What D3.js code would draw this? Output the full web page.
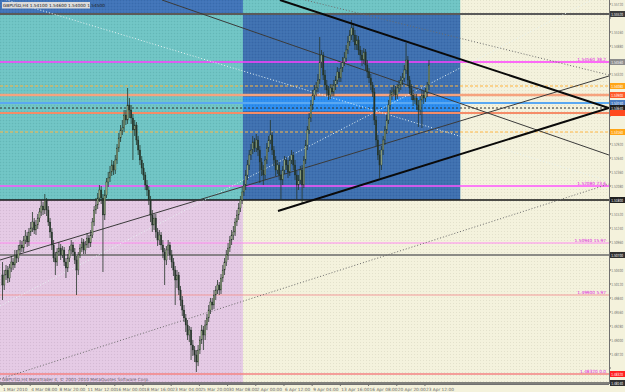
<!DOCTYPE html>
<html>
<head>
<meta charset="utf-8">
<title>GBPUSD H4</title>
<script src="https://d3js.org/d3.v7.min.js"></script>
<style>
  body { margin: 0; background: #fff; }
  svg { display: block; font-family: "DejaVu Sans", sans-serif; }
</style>
</head>
<body>
<div id="chart"></div>
<script>
// ---- data ----
var symbol = "GBPUSD,H4";
var copyright = "MetaTrader 4, \u00a9 2001-2010 MetaQuotes Software Corp.";

var timeLabels = ["1 Mar 2010", "4 Mar 08:00", "8 Mar 20:00", "11 Mar 12:00", "16 Mar 00:00",
  "18 Mar 16:00", "23 Mar 04:00", "25 Mar 20:00", "30 Mar 08:00", "2 Apr 00:00", "6 Apr 12:00",
  "9 Apr 04:00", "13 Apr 16:00", "16 Apr 08:00", "20 Apr 20:00", "23 Apr 12:00"];
var timeLabelBars = [0, 16, 32, 48, 64, 80, 96, 112, 128, 144, 160, 176, 192, 208, 224, 240];

var priceTicks = [1.5572, 1.5544, 1.5516, 1.5488, 1.5460, 1.5432, 1.5404, 1.5376, 1.5348,
  1.5320, 1.5292, 1.5264, 1.5236, 1.5208, 1.5180, 1.5152, 1.5124, 1.5096, 1.5068, 1.5040,
  1.5012, 1.4984, 1.4956, 1.4928, 1.4900, 1.4872, 1.4844];

var open = [1.5030,
  1.5010,1.5030,1.5040,1.5024,1.5044,1.5056,1.5050,1.5070,1.5064,1.5080,
  1.5090,1.5084,1.5100,1.5108,1.5096,1.5116,1.5124,1.5136,1.5120,1.5130,
  1.5144,1.5156,1.5168,1.5160,1.5180,1.5160,1.5136,1.5116,1.5090,1.5064,
  1.5056,1.5076,1.5084,1.5070,1.5080,1.5056,1.5044,1.5064,1.5080,1.5090,
  1.5076,1.5060,1.5040,1.5070,1.5084,1.5096,1.5080,1.5090,1.5104,1.5094,
  1.5110,1.5136,1.5160,1.5170,1.5184,1.5200,1.5184,1.5150,1.5190,1.5216,
  1.5224,1.5236,1.5250,1.5240,1.5260,1.5284,1.5304,1.5320,1.5324,1.5350,
  1.5340,1.5370,1.5360,1.5344,1.5320,1.5330,1.5300,1.5280,1.5260,1.5244,
  1.5230,1.5210,1.5200,1.5180,1.5150,1.5130,1.5144,1.5116,1.5100,1.5110,
  1.5090,1.5076,1.5060,1.5080,1.5090,1.5070,1.5056,1.5040,1.5020,1.5030,
  1.5000,1.4980,1.4960,1.4944,1.4930,1.4910,1.4920,1.4890,1.4880,1.4870,
  1.4856,1.4880,1.4900,1.4920,1.4910,1.4930,1.4944,1.4960,1.4976,1.4970,
  1.4990,1.5000,1.5010,1.5000,1.5024,1.5040,1.5056,1.5070,1.5084,1.5100,
  1.5110,1.5116,1.5136,1.5150,1.5164,1.5180,1.5196,1.5210,1.5230,1.5250,
  1.5270,1.5280,1.5296,1.5284,1.5300,1.5280,1.5256,1.5240,1.5230,1.5260,
  1.5284,1.5300,1.5310,1.5280,1.5260,1.5240,1.5250,1.5230,1.5220,1.5240,
  1.5260,1.5250,1.5236,1.5260,1.5270,1.5250,1.5230,1.5210,1.5220,1.5240,
  1.5210,1.5260,1.5290,1.5320,1.5344,1.5370,1.5390,1.5400,1.5404,1.5420,
  1.5456,1.5470,1.5430,1.5410,1.5400,1.5390,1.5404,1.5396,1.5410,1.5420,
  1.5436,1.5424,1.5444,1.5456,1.5464,1.5480,1.5496,1.5510,1.5524,1.5510,
  1.5490,1.5500,1.5480,1.5470,1.5460,1.5476,1.5450,1.5436,1.5424,1.5410,
  1.5396,1.5340,1.5300,1.5270,1.5250,1.5280,1.5300,1.5320,1.5340,1.5370,
  1.5390,1.5396,1.5400,1.5390,1.5404,1.5410,1.5420,1.5424,1.5440,1.5460,
  1.5420,1.5404,1.5390,1.5380,1.5384,1.5370,1.5360,1.5380,1.5390,1.5384,
  1.5396,1.5410];

var high = [
  1.5056,1.5040,1.5050,1.5048,1.5052,1.5068,1.5064,1.5080,1.5080,1.5090,
  1.5100,1.5098,1.5108,1.5120,1.5116,1.5124,1.5136,1.5156,1.5144,1.5140,
  1.5152,1.5164,1.5180,1.5176,1.5192,1.5184,1.5168,1.5144,1.5124,1.5100,
  1.5076,1.5084,1.5096,1.5092,1.5088,1.5086,1.5064,1.5072,1.5088,1.5100,
  1.5096,1.5084,1.5068,1.5076,1.5092,1.5104,1.5102,1.5098,1.5114,1.5110,
  1.5120,1.5144,1.5168,1.5184,1.5194,1.5210,1.5208,1.5192,1.5200,1.5224,
  1.5236,1.5248,1.5260,1.5258,1.5270,1.5292,1.5314,1.5330,1.5340,1.5360,
  1.5360,1.5404,1.5384,1.5370,1.5352,1.5340,1.5336,1.5308,1.5290,1.5268,
  1.5254,1.5236,1.5220,1.5208,1.5188,1.5160,1.5152,1.5152,1.5124,1.5120,
  1.5116,1.5100,1.5084,1.5088,1.5100,1.5096,1.5080,1.5064,1.5048,1.5040,
  1.5036,1.5008,1.4988,1.4970,1.4952,1.4940,1.4928,1.4926,1.4900,1.4888,
  1.4880,1.4890,1.4908,1.4930,1.4928,1.4940,1.4952,1.4970,1.4984,1.4984,
  1.5000,1.5008,1.5020,1.5016,1.5032,1.5050,1.5064,1.5080,1.5094,1.5108,
  1.5120,1.5128,1.5144,1.5160,1.5174,1.5188,1.5206,1.5220,1.5240,1.5260,
  1.5280,1.5292,1.5308,1.5304,1.5312,1.5308,1.5288,1.5264,1.5250,1.5268,
  1.5294,1.5308,1.5340,1.5316,1.5288,1.5268,1.5260,1.5256,1.5240,1.5248,
  1.5268,1.5266,1.5260,1.5268,1.5280,1.5276,1.5260,1.5238,1.5230,1.5248,
  1.5250,1.5268,1.5300,1.5328,1.5354,1.5380,1.5400,1.5410,1.5416,1.5432,
  1.5506,1.5480,1.5476,1.5440,1.5420,1.5408,1.5412,1.5412,1.5420,1.5428,
  1.5446,1.5444,1.5454,1.5466,1.5476,1.5490,1.5508,1.5520,1.5540,1.5532,
  1.5520,1.5510,1.5508,1.5488,1.5480,1.5484,1.5482,1.5460,1.5444,1.5432,
  1.5416,1.5404,1.5348,1.5310,1.5280,1.5288,1.5308,1.5328,1.5350,1.5380,
  1.5400,1.5406,1.5410,1.5408,1.5412,1.5420,1.5428,1.5434,1.5450,1.5494,
  1.5468,1.5428,1.5412,1.5400,1.5392,1.5392,1.5380,1.5388,1.5400,1.5398,
  1.5404,1.5416,1.5460];

var low = [
  1.4980,1.5000,1.5020,1.5014,1.5016,1.5036,1.5040,1.5044,1.5054,1.5056,
  1.5072,1.5076,1.5076,1.5092,1.5086,1.5088,1.5108,1.5116,1.5112,1.5110,
  1.5122,1.5136,1.5148,1.5150,1.5152,1.5148,1.5128,1.5104,1.5080,1.5056,
  1.5030,1.5048,1.5068,1.5060,1.5064,1.5048,1.5024,1.5036,1.5056,1.5072,
  1.5068,1.5052,1.4990,1.5030,1.5064,1.5076,1.5072,1.5072,1.5084,1.5084,
  1.5086,1.5104,1.5128,1.5152,1.5162,1.5176,1.5172,1.5036,1.5140,1.5184,
  1.5206,1.5216,1.5228,1.5230,1.5232,1.5252,1.5276,1.5296,1.5310,1.5316,
  1.5330,1.5332,1.5344,1.5332,1.5260,1.5308,1.5290,1.5270,1.5250,1.5232,
  1.5220,1.5200,1.5188,1.5170,1.5136,1.5116,1.5120,1.5104,1.5088,1.5090,
  1.5080,1.5064,1.5010,1.5050,1.5072,1.5060,1.5044,1.5028,1.4970,1.5004,
  1.4990,1.4968,1.4948,1.4936,1.4916,1.4900,1.4896,1.4860,1.4868,1.4856,
  1.4836,1.4848,1.4872,1.4892,1.4880,1.4900,1.4920,1.4936,1.4952,1.4960,
  1.4962,1.4980,1.4992,1.4990,1.4992,1.5016,1.5030,1.5048,1.5060,1.5076,
  1.5090,1.5100,1.5108,1.5128,1.5140,1.5156,1.5172,1.5188,1.5200,1.5220,
  1.5240,1.5260,1.5272,1.5276,1.5276,1.5268,1.5214,1.5228,1.5210,1.5220,
  1.5252,1.5276,1.5292,1.5270,1.5248,1.5228,1.5232,1.5220,1.5180,1.5210,
  1.5232,1.5240,1.5224,1.5228,1.5252,1.5240,1.5220,1.5180,1.5200,1.5212,
  1.5174,1.5204,1.5252,1.5280,1.5312,1.5336,1.5360,1.5380,1.5388,1.5396,
  1.5412,1.5444,1.5420,1.5400,1.5388,1.5380,1.5382,1.5388,1.5388,1.5400,
  1.5412,1.5416,1.5416,1.5436,1.5448,1.5456,1.5472,1.5488,1.5500,1.5496,
  1.5480,1.5480,1.5470,1.5460,1.5448,1.5452,1.5440,1.5424,1.5414,1.5400,
  1.5386,1.5330,1.5288,1.5260,1.5224,1.5240,1.5270,1.5290,1.5312,1.5332,
  1.5360,1.5380,1.5388,1.5380,1.5382,1.5396,1.5400,1.5410,1.5416,1.5432,
  1.5408,1.5392,1.5380,1.5368,1.5372,1.5360,1.5326,1.5350,1.5324,1.5372,
  1.5376,1.5386,1.5400];

var close = [
  1.5010,1.5030,1.5040,1.5024,1.5044,1.5056,1.5050,1.5070,1.5064,1.5080,
  1.5090,1.5084,1.5100,1.5108,1.5096,1.5116,1.5124,1.5136,1.5120,1.5130,
  1.5144,1.5156,1.5168,1.5160,1.5180,1.5160,1.5136,1.5116,1.5090,1.5064,
  1.5056,1.5076,1.5084,1.5070,1.5080,1.5056,1.5044,1.5064,1.5080,1.5090,
  1.5076,1.5060,1.5040,1.5070,1.5084,1.5096,1.5080,1.5090,1.5104,1.5094,
  1.5110,1.5136,1.5160,1.5170,1.5184,1.5200,1.5184,1.5150,1.5190,1.5216,
  1.5224,1.5236,1.5250,1.5240,1.5260,1.5284,1.5304,1.5320,1.5324,1.5350,
  1.5340,1.5370,1.5360,1.5344,1.5320,1.5330,1.5300,1.5280,1.5260,1.5244,
  1.5230,1.5210,1.5200,1.5180,1.5150,1.5130,1.5144,1.5116,1.5100,1.5110,
  1.5090,1.5076,1.5060,1.5080,1.5090,1.5070,1.5056,1.5040,1.5020,1.5030,
  1.5000,1.4980,1.4960,1.4944,1.4930,1.4910,1.4920,1.4890,1.4880,1.4870,
  1.4856,1.4880,1.4900,1.4920,1.4910,1.4930,1.4944,1.4960,1.4976,1.4970,
  1.4990,1.5000,1.5010,1.5000,1.5024,1.5040,1.5056,1.5070,1.5084,1.5100,
  1.5110,1.5116,1.5136,1.5150,1.5164,1.5180,1.5196,1.5210,1.5230,1.5250,
  1.5270,1.5280,1.5296,1.5284,1.5300,1.5280,1.5256,1.5240,1.5230,1.5260,
  1.5284,1.5300,1.5310,1.5280,1.5260,1.5240,1.5250,1.5230,1.5220,1.5240,
  1.5260,1.5250,1.5236,1.5260,1.5270,1.5250,1.5230,1.5210,1.5220,1.5240,
  1.5210,1.5260,1.5290,1.5320,1.5344,1.5370,1.5390,1.5400,1.5404,1.5420,
  1.5456,1.5470,1.5430,1.5410,1.5400,1.5390,1.5404,1.5396,1.5410,1.5420,
  1.5436,1.5424,1.5444,1.5456,1.5464,1.5480,1.5496,1.5510,1.5524,1.5510,
  1.5490,1.5500,1.5480,1.5470,1.5460,1.5476,1.5450,1.5436,1.5424,1.5410,
  1.5396,1.5340,1.5300,1.5270,1.5250,1.5280,1.5300,1.5320,1.5340,1.5370,
  1.5390,1.5396,1.5400,1.5390,1.5404,1.5410,1.5420,1.5424,1.5440,1.5460,
  1.5420,1.5404,1.5390,1.5380,1.5384,1.5370,1.5360,1.5380,1.5390,1.5384,
  1.5396,1.5410,1.5450];

// horizontal objects (price levels) and fibo texts
var levelPrices = [1.5552, 1.5456, 1.5408, 1.5390, 1.5374, 1.5364, 1.5354, 1.5316,
  1.5208, 1.5180, 1.5094, 1.5070, 1.4990, 1.4832, 1.4814];
var fiboLevels = [1.5456, 1.5208, 1.5094, 1.4990, 1.4832];
var fiboTexts = ["38.2", "23.6", "15.97", "5.97", "0.0"];

// rectangles: [fromBar, toBar, topPrice, bottomPrice]
var zoneTeal = [-2, 260, 1.5600, 1.5180];
var zoneHeader = [-2, 136.7, 1.5600, 1.5552];
var zoneBlue = [136.7, 260, 1.5552, 1.5180];
var zoneBand = [136.7, 260, 1.5386, 1.5358];
var zoneLilac = [-2, 136.7, 1.5180, 1.4800];

// trend lines: [bar1, price1, bar2, price2]
var thickLines = [[157.7, 1.5580, 344.4, 1.5364], [156.6, 1.5158, 344.4, 1.5364]];
var thinLines = [[-1.1, 1.5060, 344.4, 1.5428], [90.8, 1.5580, 344.4, 1.5270]];
var dottedLines = [[-1.1, 1.4822, 344.4, 1.5212], [172, 1.5580, 344.4, 1.5430]];
var whiteDotted = [[-1.1, 1.5584, 344.4, 1.5218], [-1.1, 1.4968, 344.4, 1.5598]];

// ---- drawing ----
var W = 625, H = 392;
var plotW = 609, plotH = 384;
var fs = 4.3;

var svg = d3.select("#chart").append("svg")
    .attr("width", W)
    .attr("height", H);

var x = d3.scaleLinear().domain([0, 345]).range([2, 610]);
var y = d3.scaleLinear().domain([1.4812, 1.5580]).range([plotH, 0]);
var fmt = d3.format(".5f");

// dotted texture like the terminal screenshot
var defs = svg.append("defs");
var pat = defs.append("pattern")
    .attr("id", "dots")
    .attr("width", 3).attr("height", 3)
    .attr("patternUnits", "userSpaceOnUse");
pat.append("rect").attr("x", 0).attr("y", 0).attr("width", 1).attr("height", 1)
    .attr("fill", "rgba(0,0,0,0.07)");
pat.append("rect").attr("x", 1.5).attr("y", 1.5).attr("width", 1).attr("height", 1)
    .attr("fill", "rgba(255,255,255,0.12)");

defs.append("clipPath").attr("id", "plot")
    .append("rect").attr("width", plotW).attr("height", plotH);

svg.append("rect")
    .attr("width", W).attr("height", H)
    .attr("fill", "#f4f2dc");

var plot = svg.append("g").attr("clip-path", "url(#plot)");

function zone(z, color) {
  plot.append("rect")
      .attr("x", x(z[0]))
      .attr("y", y(z[2]))
      .attr("width", x(z[1]) - x(z[0]))
      .attr("height", y(z[3]) - y(z[2]))
      .attr("fill", color);
}
zone(zoneTeal, "#6ec4c4");
zone(zoneHeader, "#3f73b8");
zone(zoneBlue, "#3d6fb0");
zone(zoneLilac, "#e4c9e4");
zone(zoneBand, "#2a8cf0");

plot.append("rect")
    .attr("width", plotW).attr("height", plotH)
    .attr("fill", "url(#dots)");

// horizontal levels
var levelStyle = [
  {c: "#5a5a5a", w: 2, box: "#3a3a3a"},
  {c: "#ff3cff", w: 1.5, box: "#8c8c8c"},
  {c: "#ffb23c", w: 1, d: "3,2", box: "#ffa516"},
  {c: "#f6a37e", w: 2.5, box: "#ff5a28"},
  {c: "#5aa8f2", w: 2, box: "#4a7cc0"},
  {c: "#333333", w: 1, d: "2,2", box: "#1e1e1e"},
  {c: "#f58c68", w: 2, box: "#ff4a1e"},
  {c: "#ffb848", w: 1, d: "3,2", box: "#ffa516"},
  {c: "#ff55ff", w: 1.5},
  {c: "#151515", w: 1.5, box: "#202020"},
  {c: "#ff8cf0", w: 1},
  {c: "#6a6a6a", w: 1.5, box: "#303030"},
  {c: "#f29a9a", w: 1.2},
  {c: "#f58282", w: 1.5, box: "#ff2020"},
  {c: "#5a5a5a", w: 1.5, box: "#303030"}
];

levelPrices.forEach(function(p, i) {
  var s = levelStyle[i];
  plot.append("line")
      .attr("x1", 0).attr("x2", plotW)
      .attr("y1", y(p)).attr("y2", y(p))
      .attr("stroke", s.c)
      .attr("stroke-width", s.w)
      .attr("stroke-dasharray", s.d || null);
});

function seg(l, color, width, dash) {
  plot.append("line")
      .attr("x1", x(l[0])).attr("y1", y(l[1]))
      .attr("x2", x(l[2])).attr("y2", y(l[3]))
      .attr("stroke", color)
      .attr("stroke-width", width)
      .attr("stroke-dasharray", dash || null);
}
whiteDotted.forEach(function(l) { seg(l, "#e8f4f4", 1, "1,2"); });
dottedLines.forEach(function(l) { seg(l, "#6a6a6a", 1, "1,2"); });
thinLines.forEach(function(l) { seg(l, "#3a3a3a", 1); });

// candles
var bars = plot.append("g");
close.forEach(function(c, i) {
  var cx = x(i) + 0.5;
  bars.append("line")
      .attr("x1", cx).attr("x2", cx)
      .attr("y1", y(high[i])).attr("y2", y(low[i]))
      .attr("stroke", "#26352a")
      .attr("stroke-width", 0.8);
  var top = y(Math.max(open[i], c)), bot = y(Math.min(open[i], c));
  bars.append("rect")
      .attr("x", cx - 0.7).attr("width", 1.4)
      .attr("y", top).attr("height", Math.max(0.6, bot - top))
      .attr("fill", c >= open[i] ? "#8fa27c" : "#26352a")
      .attr("stroke", "#26352a")
      .attr("stroke-width", 0.3);
});

thickLines.forEach(function(l) { seg(l, "#0a0a0a", 2); });

// fibo texts
fiboLevels.forEach(function(p, i) {
  plot.append("text")
      .attr("x", 606).attr("y", y(p) - 1.5)
      .attr("text-anchor", "end")
      .attr("font-size", fs)
      .attr("fill", "#e020e0")
      .text(fmt(p) + " " + fiboTexts[i]);
});

// price axis
svg.append("line")
    .attr("x1", plotW + 0.5).attr("x2", plotW + 0.5)
    .attr("y1", 0).attr("y2", plotH)
    .attr("stroke", "#707070");
svg.append("line")
    .attr("x1", 0).attr("x2", plotW)
    .attr("y1", plotH + 0.5).attr("y2", plotH + 0.5)
    .attr("stroke", "#707070");

// narrow labels: the terminal squeezes the price text into the scale strip
function axisText(g, p, color) {
  g.append("text")
      .attr("transform", "translate(" + (plotW + 2.3) + "," + (y(p) + 1.5) + ") scale(0.66,1)")
      .attr("font-size", fs)
      .attr("fill", color)
      .text(fmt(p));
}

var boxPrices = levelPrices.filter(function(p, i) { return levelStyle[i].box; });

var ticks = svg.append("g");
priceTicks.forEach(function(p) {
  ticks.append("line")
      .attr("x1", plotW).attr("x2", plotW + 2)
      .attr("y1", y(p)).attr("y2", y(p))
      .attr("stroke", "#707070");
  // a tick label hidden under a level box is not drawn
  var covered = boxPrices.some(function(b) { return Math.abs(y(b) - y(p)) < 6; });
  if (!covered) axisText(ticks, p, "#707070");
});

var boxes = svg.append("g");
levelPrices.forEach(function(p, i) {
  var s = levelStyle[i];
  if (!s.box) return;
  boxes.append("rect")
      .attr("x", plotW + 1).attr("y", y(p) - 3)
      .attr("width", W - plotW - 1).attr("height", 6)
      .attr("fill", s.box);
});
// labels of boxes that sit too close to an earlier one are skipped
var shown = [];
levelPrices.forEach(function(p, i) {
  if (!levelStyle[i].box) return;
  var clash = shown.some(function(q) { return Math.abs(y(q) - y(p)) < 5; });
  if (clash) return;
  shown.push(p);
  axisText(boxes, p, "#ffffff");
});

// time axis
timeLabelBars.forEach(function(b, i) {
  svg.append("line")
      .attr("x1", x(b)).attr("x2", x(b))
      .attr("y1", plotH).attr("y2", plotH + 2)
      .attr("stroke", "#707070");
  svg.append("text")
      .attr("x", x(b) + 1).attr("y", plotH + 6.5)
      .attr("font-size", fs)
      .attr("fill", "#6a6a6a")
      .text(timeLabels[i]);
});

// header and copyright
var last = close.length - 1;
var head = symbol + "  " + [open[last], high[last], low[last], close[last]].map(fmt).join(" ");
svg.append("rect")
    .attr("x", 2).attr("y", 2).attr("width", 88).attr("height", 6.5)
    .attr("fill", "#dcdcdc");
svg.append("text")
    .attr("x", 3).attr("y", 7)
    .attr("font-size", fs)
    .attr("fill", "#202020")
    .text(head);

svg.append("text")
    .attr("x", 2).attr("y", 381)
    .attr("font-size", fs)
    .attr("fill", "#6a5a6a")
    .text(symbol + "  " + copyright);
</script>
</body>
</html>
